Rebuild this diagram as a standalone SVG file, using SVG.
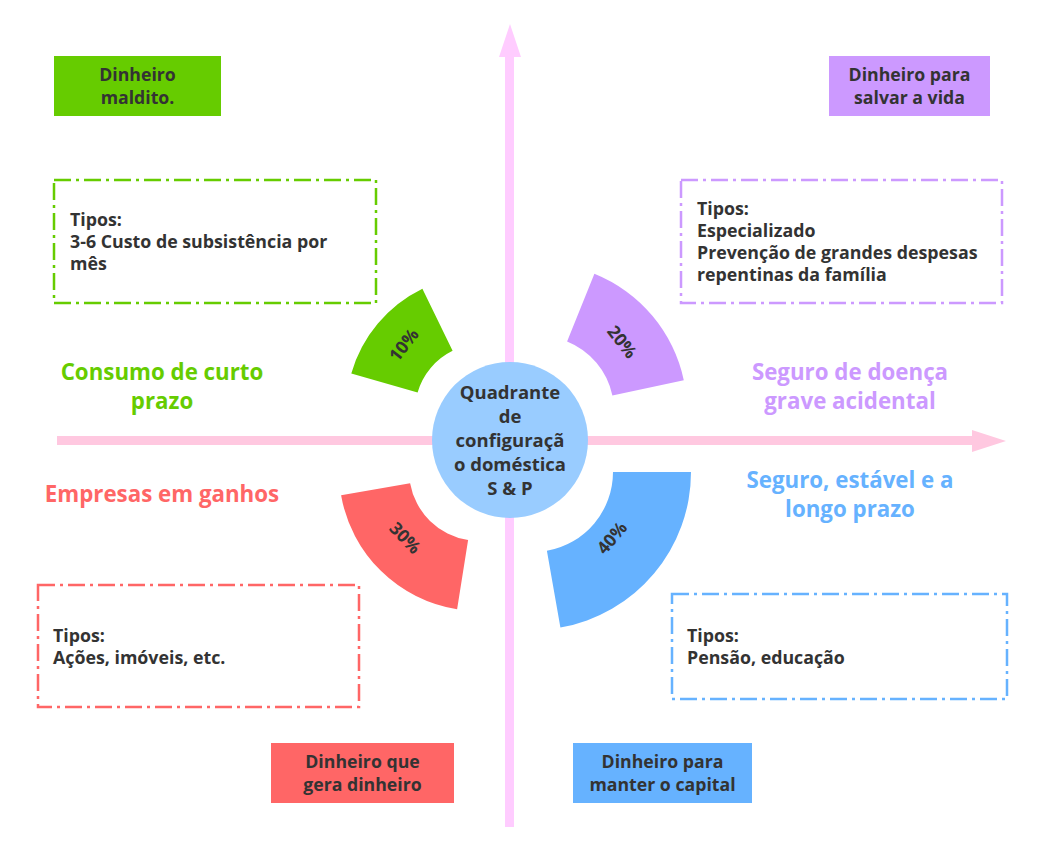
<svg xmlns="http://www.w3.org/2000/svg" width="1047" height="864" viewBox="0 0 1047 864">
<style>
  text { font-family: "Open Sans", "Noto Sans", "DejaVu Sans", sans-serif; font-weight: bold; fill: #333333; }
  .lbl { font-size: 17.7px; text-anchor: middle; }
  .typ { font-size: 17.8px; }
  .ctr { font-size: 18.5px; text-anchor: middle; }
  .pct { font-size: 17.5px; text-anchor: middle; }
  .side { font-size: 22.3px; text-anchor: middle; }
  .dash { fill: #ffffff; stroke-width: 2.5; stroke-dasharray: 17 5 3 5; }
</style>
<rect width="1047" height="864" fill="#ffffff"/>
<g id="connectors">
  <polygon points="57,436 972,436 972,430 1006,441 972,452 972,445 57,445" fill="#FFC8E0"/>
  <polygon points="505,827 505,57 499,57 510,24 521,57 514,57 514,827" fill="#FFCCFF"/>
</g>
<g id="sector-10">
  <path d="M 422.4 288.8 A 136 136 0 0 0 351.3 373.5 L 417.6 392.5 A 67 67 0 0 1 452.6 350.8 Z" fill="#66CC00"/>
  <text class="pct" transform="translate(404,345) rotate(-52)" y="6">10%</text>
</g>
<g id="sector-20">
  <path d="M 594.4 273.8 A 148 148 0 0 1 683.8 380.2 L 612.4 395.4 A 75 75 0 0 0 567.1 341.5 Z" fill="#CC99FF"/>
  <text class="pct" transform="translate(622,342) rotate(52)" y="6">20%</text>
</g>
<g id="sector-30">
  <path d="M 341.1 495.3 A 140 140 0 0 0 457.1 609.3 L 468.1 540.1 A 70 70 0 0 1 410.1 483.2 Z" fill="#FF6666"/>
  <text class="pct" transform="translate(405,538) rotate(46)" y="6">30%</text>
</g>
<g id="sector-40">
  <path d="M 691 472 A 158 158 0 0 1 560.4 627.6 L 546.9 550.8 A 80 80 0 0 0 613 472 Z" fill="#66B2FF"/>
  <text class="pct" transform="translate(612,538) rotate(-50)" y="6">40%</text>
</g>
<g id="center">
  <circle cx="510" cy="440" r="78" fill="#99CCFF"/>
  <text class="ctr" x="510" y="398.5">Quadrante</text>
  <text class="ctr" x="510" y="422.5">de</text>
  <text class="ctr" x="510" y="446.5">configuraçã</text>
  <text class="ctr" x="510" y="470.5">o doméstica</text>
  <text class="ctr" x="510" y="494.5">S &amp; P</text>
</g>
<g id="box-maldito">
  <rect x="54" y="56" width="167" height="60" fill="#66CC00"/>
  <text class="lbl" x="137.5" y="81">Dinheiro</text>
  <text class="lbl" x="137.5" y="104">maldito.</text>
</g>
<g id="box-salvar">
  <rect x="829" y="56" width="161" height="60" fill="#CC99FF"/>
  <text class="lbl" x="909.5" y="81">Dinheiro para</text>
  <text class="lbl" x="909.5" y="104">salvar a vida</text>
</g>
<g id="box-gera">
  <rect x="271" y="743" width="183" height="60" fill="#FF6666"/>
  <text class="lbl" x="362.5" y="768">Dinheiro que</text>
  <text class="lbl" x="362.5" y="791">gera dinheiro</text>
</g>
<g id="box-manter">
  <rect x="573" y="743" width="179" height="60" fill="#66B2FF"/>
  <text class="lbl" x="662.5" y="768">Dinheiro para</text>
  <text class="lbl" x="662.5" y="791">manter o capital</text>
</g>
<g id="types-green">
  <rect class="dash" x="54" y="180" width="322" height="123" stroke="#66CC00"/>
  <text class="typ" x="70" y="226">Tipos:</text>
  <text class="typ" x="70" y="248">3-6 Custo de subsistência por</text>
  <text class="typ" x="70" y="270">mês</text>
</g>
<g id="types-purple">
  <rect class="dash" x="681" y="180" width="321" height="123" stroke="#CC99FF"/>
  <text class="typ" x="697" y="215">Tipos:</text>
  <text class="typ" x="697" y="237">Especializado</text>
  <text class="typ" x="697" y="259">Prevenção de grandes despesas</text>
  <text class="typ" x="697" y="281">repentinas da família</text>
</g>
<g id="types-red">
  <rect class="dash" x="38" y="585" width="321" height="122" stroke="#FF6666"/>
  <text class="typ" x="53" y="642">Tipos:</text>
  <text class="typ" x="53" y="664">Ações, imóveis, etc.</text>
</g>
<g id="types-blue">
  <rect class="dash" x="672" y="594" width="335" height="105" stroke="#66B2FF"/>
  <text class="typ" x="687" y="642">Tipos:</text>
  <text class="typ" x="687" y="664">Pensão, educação</text>
</g>
<g id="label-consumo">
  <text class="side" x="162" y="379.5" style="fill:#66CC00">Consumo de curto</text>
  <text class="side" x="162" y="408.5" style="fill:#66CC00">prazo</text>
</g>
<g id="label-doenca">
  <text class="side" x="850" y="379.5" style="fill:#CC99FF">Seguro de doença</text>
  <text class="side" x="850" y="408.5" style="fill:#CC99FF">grave acidental</text>
</g>
<g id="label-empresas">
  <text class="side" x="162" y="502" style="fill:#FF6666">Empresas em ganhos</text>
</g>
<g id="label-seguro">
  <text class="side" x="850" y="487.5" style="fill:#66B2FF">Seguro, estável e a</text>
  <text class="side" x="850" y="516.5" style="fill:#66B2FF">longo prazo</text>
</g>
</svg>
